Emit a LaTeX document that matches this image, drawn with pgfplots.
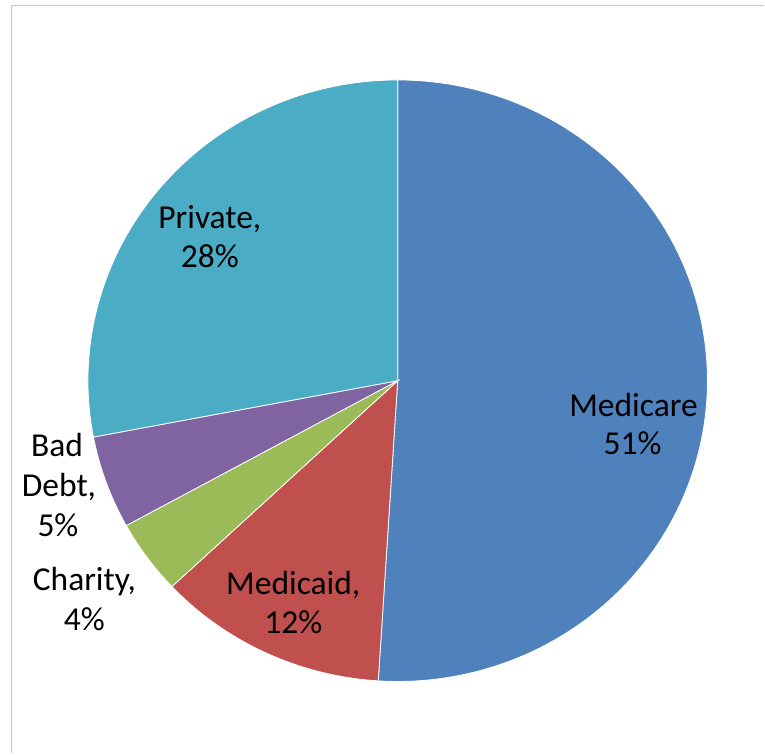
\documentclass[border=0pt]{standalone}
\usepackage{pgfplots}
\usepackage{pgfplotstable}
\pgfplotsset{compat=1.18}
\usepackage{fontspec}
\setmainfont{Carlito}
\definecolor{cMedicare}{HTML}{4F81BD}
\definecolor{cMedicaid}{HTML}{C0504D}
\definecolor{cCharity}{HTML}{9BBB59}
\definecolor{cBadDebt}{HTML}{8064A2}
\definecolor{cPrivate}{HTML}{4BACC6}
\definecolor{frame}{HTML}{C9C9C9}
\pgfplotstableread{
label value
Medicare 51
Medicaid 12
Charity 4
BadDebt 5
Private 28
}\shares
\begin{document}
\begin{tikzpicture}
\pgfmathsetmacro\aA{90}
\pgfplotstablegetelem{0}{value}\of\shares \pgfmathsetmacro\aB{\aA-3.6*\pgfplotsretval}
\pgfplotstablegetelem{1}{value}\of\shares \pgfmathsetmacro\aC{\aB-3.6*\pgfplotsretval}
\pgfplotstablegetelem{2}{value}\of\shares \pgfmathsetmacro\aD{\aC-3.6*\pgfplotsretval}
\pgfplotstablegetelem{3}{value}\of\shares \pgfmathsetmacro\aE{\aD-3.6*\pgfplotsretval}
\pgfplotstablegetelem{4}{value}\of\shares \pgfmathsetmacro\aF{\aE-3.6*\pgfplotsretval}
\begin{axis}[
  width=765bp, height=754bp, scale only axis,
  xmin=0, xmax=765, ymin=0, ymax=754, y dir=reverse,
  hide axis, clip=false,
]
\fill[white] (axis cs:0,0) rectangle (axis cs:765,754);
\draw[frame, line width=1.2bp] (axis cs:11.5,754) -- (axis cs:11.5,5.5) -- (axis cs:765,5.5);
\addplot[fill=cMedicare, draw=white, line width=0.8bp, domain=\aB:\aA, samples=120, variable=\t]
  ({398+310*cos(\t)},{381-301*sin(\t)}) -- (axis cs:398,381) -- cycle;
\addplot[fill=cMedicaid, draw=white, line width=0.8bp, domain=\aC:\aB, samples=40, variable=\t]
  ({398+310*cos(\t)},{381-301*sin(\t)}) -- (axis cs:398,381) -- cycle;
\addplot[fill=cCharity, draw=white, line width=0.8bp, domain=\aD:\aC, samples=20, variable=\t]
  ({398+310*cos(\t)},{381-301*sin(\t)}) -- (axis cs:398,381) -- cycle;
\addplot[fill=cBadDebt, draw=white, line width=0.8bp, domain=\aE:\aD, samples=20, variable=\t]
  ({398+310*cos(\t)},{381-301*sin(\t)}) -- (axis cs:398,381) -- cycle;
\addplot[fill=cPrivate, draw=white, line width=0.8bp, domain=\aF:\aE, samples=80, variable=\t]
  ({398+310*cos(\t)},{381-301*sin(\t)}) -- (axis cs:398,381) -- cycle;
\begin{scope}[every node/.style={anchor=base, inner sep=0pt, font=\fontsize{33.5bp}{40bp}\selectfont}]
\node at (axis cs:634,416.5) {Medicare};
\node at (axis cs:633,455) {51\%};
\node at (axis cs:293.5,595) {Medicaid,};
\node at (axis cs:293.5,634) {12\%};
\node at (axis cs:210,229) {Private,};
\node at (axis cs:210,268) {28\%};
\node at (axis cs:57,456.5) {Bad};
\node at (axis cs:59,497) {Debt,};
\node at (axis cs:58,536.5) {5\%};
\node at (axis cs:84.5,591) {Charity,};
\node at (axis cs:84.5,630.5) {4\%};
\end{scope}
\end{axis}
\end{tikzpicture}
\end{document}
